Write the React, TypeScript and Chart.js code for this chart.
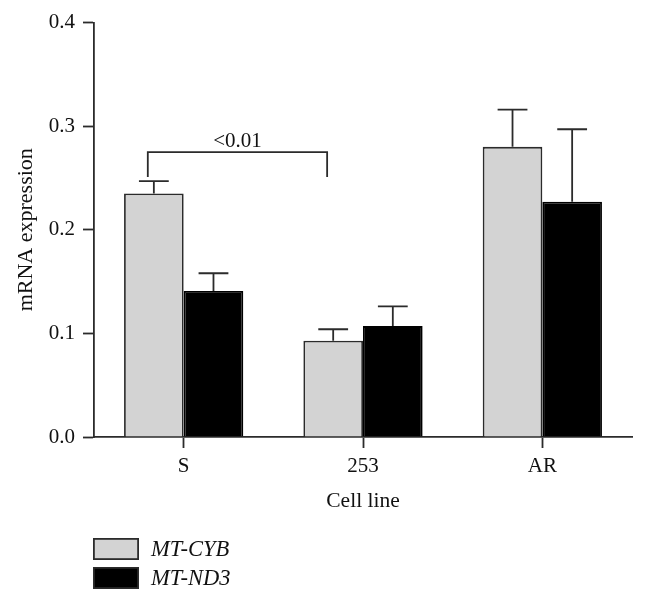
import React, { useEffect, useRef } from "react";
import { Chart, registerables } from "chart.js";

Chart.register(...registerables);

const categories = ["S", "253", "AR"];
const seriesNames = ["MT-CYB", "MT-ND3"];
const cybValues = [0.235, 0.093, 0.28];
const nd3Values = [0.141, 0.107, 0.227];
const cybErrors = [0.012, 0.011, 0.036];
const nd3Errors = [0.017, 0.019, 0.07];
const yTicks = [0, 0.1, 0.2, 0.3, 0.4];
const yTitle = "mRNA expression";
const xTitle = "Cell line";
const sigLabel = "<0.01";
const sigFrom = 0;
const sigTo = 1;
const sigLevel = 0.275;
const sigDrop = 0.251;

const FONT = "'Liberation Serif', 'Times New Roman', serif";
const AXIS = "#2b2b2b";
const GRAY = "#d3d3d3";
const TEXT = "#111111";
const LW = 1.8;

const errorBarPlugin = {
  id: "errorBars",
  afterDatasetsDraw(chart: any) {
    const { ctx } = chart;
    const yScale = chart.scales.y;
    const xScale = chart.scales.x;
    const errs = [cybErrors, nd3Errors];
    ctx.save();
    ctx.strokeStyle = AXIS;
    ctx.lineWidth = LW;
    chart.data.datasets.forEach((ds: any, di: number) => {
      const meta = chart.getDatasetMeta(di);
      meta.data.forEach((el: any, i: number) => {
        const v = ds.data[i];
        const top = yScale.getPixelForValue(v + errs[di][i]);
        const half = el.width / 4;
        ctx.beginPath();
        ctx.moveTo(el.x, el.y);
        ctx.lineTo(el.x, top);
        ctx.moveTo(el.x - half, top);
        ctx.lineTo(el.x + half, top);
        ctx.stroke();
      });
    });

    // significance bracket
    const cat = xScale.width / categories.length;
    const x1 = xScale.getPixelForValue(sigFrom) - 0.2 * cat;
    const x2 = xScale.getPixelForValue(sigTo) - 0.2 * cat;
    const yL = yScale.getPixelForValue(sigLevel);
    const yD = yScale.getPixelForValue(sigDrop);
    ctx.beginPath();
    ctx.moveTo(x1, yD);
    ctx.lineTo(x1, yL);
    ctx.lineTo(x2, yL);
    ctx.lineTo(x2, yD);
    ctx.stroke();
    ctx.fillStyle = TEXT;
    ctx.font = `21px ${FONT}`;
    ctx.textAlign = "center";
    ctx.textBaseline = "middle";
    ctx.fillText(sigLabel, (x1 + x2) / 2, yL - 11);

    // legend
    const lx = chart.chartArea.left - 1;
    const colors = [GRAY, "#000000"];
    const rows = [538, 567];
    ctx.font = `italic 22.5px ${FONT}`;
    ctx.textAlign = "left";
    seriesNames.forEach((name, i) => {
      const y = rows[i];
      ctx.fillStyle = colors[i];
      ctx.fillRect(lx, y, 46, 22);
      ctx.lineWidth = LW;
      ctx.strokeStyle = AXIS;
      ctx.strokeRect(lx + 0.9, y + 0.9, 44.2, 20.2);
      ctx.fillStyle = TEXT;
      ctx.fillText(name, lx + 58, y + 12.5);
    });
    ctx.restore();
  },
};

export default function App() {
  const ref = useRef<HTMLCanvasElement>(null);
  useEffect(() => {
    const prevMargin = document.body.style.margin;
    document.body.style.margin = "0";
    const chart = new Chart(ref.current as HTMLCanvasElement, {
      type: "bar",
      data: {
        labels: categories,
        datasets: [
          {
            label: seriesNames[0],
            data: cybValues,
            backgroundColor: GRAY,
            borderColor: AXIS,
            borderWidth: LW,
          },
          {
            label: seriesNames[1],
            data: nd3Values,
            backgroundColor: "#000000",
            borderColor: "#000000",
            borderWidth: LW,
          },
        ],
      },
      options: {
        responsive: false,
        animation: false,
        layout: { padding: { left: 0, right: 14, top: 22.5, bottom: 0 } },
        plugins: {
          legend: { display: false },
          tooltip: { enabled: false },
        },
        datasets: {
          bar: { categoryPercentage: 0.665, barPercentage: 1 },
        },
        scales: {
          x: {
            offset: true,
            grid: {
              display: true,
              drawOnChartArea: false,
              offset: false,
              tickLength: 11,
              tickColor: AXIS,
              tickWidth: LW,
            },
            border: { display: true, color: AXIS, width: LW },
            ticks: {
              color: TEXT,
              font: { family: FONT, size: 21 },
              padding: 6,
            },
            title: {
              display: true,
              text: xTitle,
              color: TEXT,
              font: { family: FONT, size: 21.5 },
              padding: { top: 0, bottom: 89 },
            },
            afterFit: (s: any) => {
              s.height = 166;
            },
          },
          y: {
            min: 0,
            max: 0.4,
            afterBuildTicks: (s: any) => {
              s.ticks = yTicks.map((v) => ({ value: v }));
            },
            grid: {
              display: true,
              drawOnChartArea: false,
              tickLength: 11,
              tickColor: AXIS,
              tickWidth: LW,
            },
            border: { display: true, color: AXIS, width: LW },
            ticks: {
              color: TEXT,
              font: { family: FONT, size: 21 },
              padding: 8,
              callback: (v: any) => Number(v).toFixed(1),
            },
            title: {
              display: true,
              text: yTitle,
              color: TEXT,
              font: { family: FONT, size: 22 },
              padding: { top: 13, bottom: 0 },
            },
            afterFit: (s: any) => {
              s.width = 94;
            },
          },
        },
      },
      plugins: [errorBarPlugin],
    });
    return () => {
      chart.destroy();
      document.body.style.margin = prevMargin;
    };
  }, []);
  return (
    <div style={{ position: "absolute", left: 0, top: 0, width: 646, height: 603, background: "#fff" }}>
      <canvas ref={ref} width={646} height={603} style={{ display: "block" }} />
    </div>
  );
}
